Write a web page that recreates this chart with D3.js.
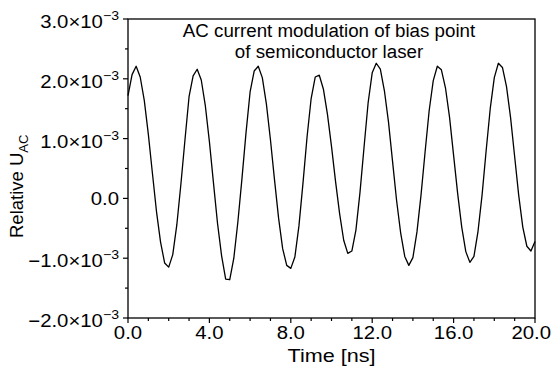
<!DOCTYPE html>
<html>
<head>
<meta charset="utf-8">
<script src="https://cdn.jsdelivr.net/npm/d3@7"></script>
<style>
    body { margin: 0; background: #fff; }
    svg text { font-family: "Liberation Sans", Arial, Helvetica, sans-serif; fill: #000; }
</style>
</head>
<body>
<svg id="chart" width="552" height="371"></svg>
<script>
// sampled every 0.2 ns, values in units of 1e-3
const sample_step = 0.2;
const uac_values = [
    1.72, 2.07, 2.21, 2.03, 1.64, 1.07, 0.42, -0.22, -0.73, -1.08,
    -1.15, -0.94, -0.44, 0.24, 0.98, 1.70, 2.05, 2.16, 1.98, 1.55,
    0.95, 0.26, -0.42, -0.96, -1.35, -1.36, -1.00, -0.39, 0.33, 1.10,
    1.78, 2.13, 2.21, 2.02, 1.58, 0.98, 0.31, -0.33, -0.84, -1.12,
    -1.17, -0.98, -0.46, 0.26, 1.03, 1.67, 2.03, 2.06, 1.83, 1.41,
    0.87, 0.28, -0.26, -0.70, -0.92, -0.88, -0.53, 0.10, 0.86, 1.60,
    2.10, 2.26, 2.16, 1.80, 1.28, 0.62, -0.04, -0.58, -0.97, -1.12,
    -0.99, -0.56, 0.06, 0.78, 1.47, 1.97, 2.21, 2.15, 1.85, 1.36,
    0.72, 0.08, -0.48, -0.89, -1.07, -0.97, -0.55, 0.06, 0.80, 1.50,
    2.02, 2.26, 2.19, 1.87, 1.35, 0.70, 0.05, -0.48, -0.80, -0.88,
    -0.72
];
const x_major = [0, 4, 8, 12, 16, 20];
const x_labels = ['0.0', '4.0', '8.0', '12.0', '16.0', '20.0'];
const x_minor = [1, 2, 3, 5, 6, 7, 9, 10, 11, 13, 14, 15, 17, 18, 19];
const y_major = [-2e-3, -1e-3, 0, 1e-3, 2e-3, 3e-3];
const y_labels = ['\u22122.0\u00d710', '\u22121.0\u00d710', '0.0', '1.0\u00d710', '2.0\u00d710', '3.0\u00d710'];
const y_exps = ['\u22123', '\u22123', '', '\u22123', '\u22123', '\u22123'];
const y_minor = [-1.5e-3, -0.5e-3, 0.5e-3, 1.5e-3, 2.5e-3];
const title_lines = ['AC current modulation of bias point', 'of semiconductor laser'];

const plot = {left: 128, right: 535, top: 19, bottom: 318};
const svg = d3.select('svg#chart');

let x = d3.scaleLinear().domain([0, 20]).range([plot.left, plot.right]);
let y = d3.scaleLinear().domain([-2e-3, 3e-3]).range([plot.bottom, plot.top]);

let points = uac_values.map((v, i) => ({t: i * sample_step, v: v * 1e-3}));

// curve
let line = d3.line()
    .x(d => x(d.t))
    .y(d => y(d.v));
svg.append('path')
    .datum(points)
    .attr('d', line)
    .attr('fill', 'none')
    .attr('stroke', '#000')
    .attr('stroke-width', 1.3)
    .attr('stroke-linejoin', 'round');

// frame
svg.append('rect')
    .attr('x', plot.left)
    .attr('y', plot.top)
    .attr('width', plot.right - plot.left)
    .attr('height', plot.bottom - plot.top)
    .attr('fill', 'none')
    .attr('stroke', '#000')
    .attr('stroke-width', 1.3);

// ticks
let ticks = svg.append('g').attr('stroke', '#000').attr('stroke-width', 1.2);
ticks.selectAll('line.xmaj').data(x_major).enter().append('line')
    .attr('x1', d => x(d)).attr('x2', d => x(d))
    .attr('y1', plot.bottom).attr('y2', plot.bottom + 5);
ticks.selectAll('line.xmin').data(x_minor).enter().append('line')
    .attr('x1', d => x(d)).attr('x2', d => x(d))
    .attr('y1', plot.bottom).attr('y2', plot.bottom + 3);
ticks.selectAll('line.ymaj').data(y_major).enter().append('line')
    .attr('y1', d => y(d)).attr('y2', d => y(d))
    .attr('x1', plot.left).attr('x2', plot.left - 5);
ticks.selectAll('line.ymin').data(y_minor).enter().append('line')
    .attr('y1', d => y(d)).attr('y2', d => y(d))
    .attr('x1', plot.left).attr('x2', plot.left - 3);

// text in the source looks a bit stretched sideways
const wide = 1.13;

// tick labels (the last one is pulled in so it stays inside the page)
svg.append('g').selectAll('text')
    .data(x_major)
    .enter()
    .append('text')
    .attr('text-anchor', 'middle')
    .style('font-size', '18px')
    .text((d, i) => x_labels[i])
    .attr('transform', function(d) {
        let half = this.getComputedTextLength() * wide / 2;
        let cx = Math.min(x(d), 551 - half);
        return 'translate(' + cx + ',' + (plot.bottom + 20.5) + ') scale(' + wide + ',1)';
    });

let ylab = svg.append('g').selectAll('text')
    .data(y_major)
    .enter()
    .append('text')
    .attr('transform', (d, i) => 'translate(119,' + (y(d) + (y_exps[i] ? 9 : 6.5)) + ') scale(1.13,1)')
    .attr('text-anchor', 'end')
    .style('font-size', '18px');
ylab.append('tspan').text((d, i) => y_labels[i]);
ylab.filter((d, i) => y_exps[i] !== '')
    .append('tspan')
    .attr('dy', -8)
    .style('font-size', '12.5px')
    .text(d => y_exps[y_major.indexOf(d)]);

// title
svg.append('g').selectAll('text')
    .data(title_lines)
    .enter()
    .append('text')
    .attr('transform', (d, i) => 'translate(329,' + (36.5 + i * 21.5) + ') scale(1.04,1)')
    .attr('text-anchor', 'middle')
    .style('font-size', '18px')
    .text(d => d);

// axis titles
svg.append('text')
    .attr('transform', 'translate(' + (plot.left + plot.right) / 2 + ',361.5) scale(1.2,1)')
    .attr('text-anchor', 'middle')
    .style('font-size', '18px')
    .text('Time [ns]');

let yt = svg.append('text')
    .attr('transform', 'translate(22.5,238) rotate(-90)')
    .attr('text-anchor', 'start')
    .style('font-size', '18.5px');
yt.append('tspan').text('Relative U');
yt.append('tspan').attr('dy', 5).style('font-size', '13px').text('AC');
</script>
</body>
</html>
